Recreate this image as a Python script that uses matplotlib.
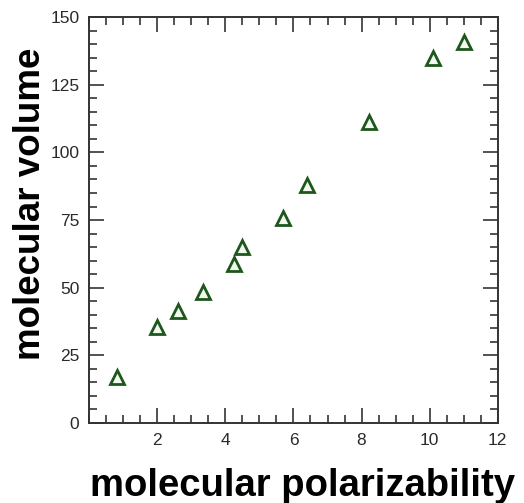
import matplotlib
matplotlib.use("Agg")
import matplotlib.pyplot as plt
from matplotlib.ticker import MultipleLocator

# molecular polarizability vs molecular volume
polarizability = [0.82, 2.0, 2.61, 3.35, 4.25, 4.49, 5.69, 6.40, 8.22, 10.09, 11.0]
volume = [17.0, 35.6, 41.5, 48.5, 58.7, 65.2, 75.9, 88.1, 111.1, 134.8, 140.7]

x_ticks = [2, 4, 6, 8, 10, 12]
y_ticks = [0, 25, 50, 75, 100, 125, 150]
y_tick_labels = ["0", "25", "50", "75", "100", "125", "150"]

plt.rcParams["font.family"] = ["Liberation Sans", "DejaVu Sans"]

fig = plt.figure(figsize=(5.24, 5.03), dpi=100)
ax = fig.add_axes([0.170, 0.159, 0.780, 0.807])

ax.plot(polarizability, volume, linestyle="none", marker="^",
        markersize=9.5, markeredgewidth=2.0,
        markeredgecolor="#1d571d", markerfacecolor="#f2f9ee")

ax.set_xlim(0, 12)
ax.set_ylim(0, 150)
ax.set_xticks(x_ticks)
ax.set_yticks(y_ticks)
ax.set_yticklabels(y_tick_labels)
ax.xaxis.set_minor_locator(MultipleLocator(0.5))
ax.yaxis.set_minor_locator(MultipleLocator(5))

ax.tick_params(which="both", direction="in", top=True, right=True,
               color="#333333", width=1.2, labelsize=12.5,
               labelcolor="#2a2a2a")
ax.tick_params(which="major", length=11, pad=7)
ax.tick_params(which="minor", length=5.5)

for sp in ax.spines.values():
    sp.set_linewidth(1.4)
    sp.set_color("#333333")

ax.set_xlabel("molecular polarizability", fontsize=27.5, fontweight="bold")
ax.set_ylabel("molecular volume", fontsize=26.5, fontweight="bold")
ax.xaxis.set_label_coords(0.521, -0.111)
ax.yaxis.set_label_coords(-0.100, 0.54)

fig.savefig("out.png", dpi=100)
